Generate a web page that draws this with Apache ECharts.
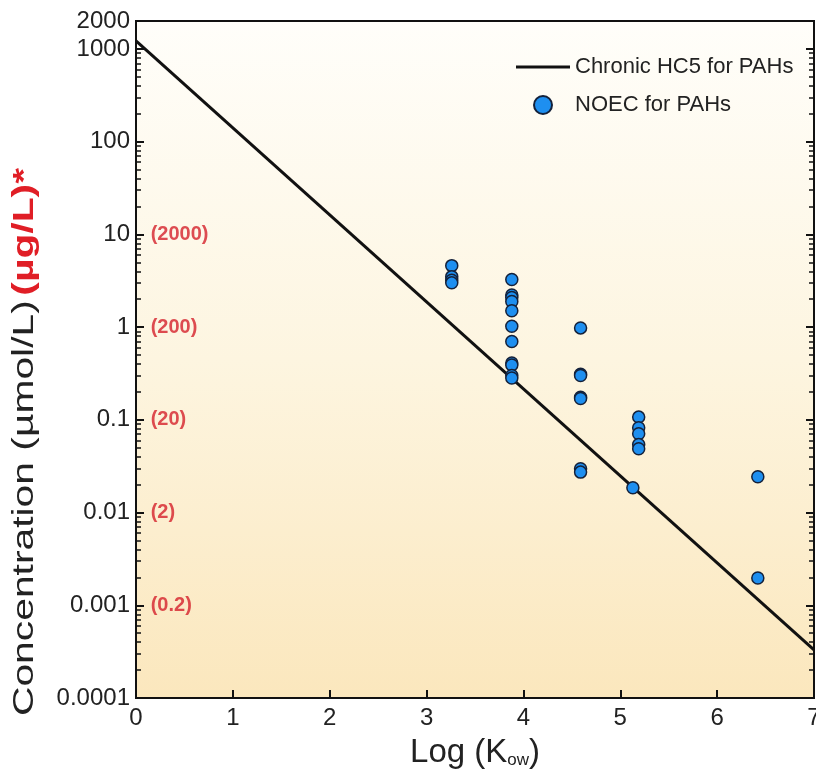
<!DOCTYPE html>
<html>
<head>
<meta charset="utf-8">
<script src="https://cdn.jsdelivr.net/npm/echarts@6/dist/echarts.min.js"></script>
<style>html,body{margin:0;padding:0;background:#fff;}#c{width:816px;height:773px;}</style>
</head>
<body>
<div id="c"></div>
<script>
// ---- data ----
const hc5X = [0, 7];
const hc5Y = [1220, 0.00033];
const noecX = [3.26, 3.26, 3.26, 3.26,
  3.88, 3.88, 3.88, 3.88, 3.88, 3.88, 3.88, 3.88, 3.88, 3.88, 3.88,
  4.59, 4.59, 4.59, 4.59, 4.59, 4.59, 4.59,
  5.19, 5.19, 5.19, 5.19, 5.19,
  5.13,
  6.42, 6.42];
const noecY = [4.6, 3.5, 3.2, 3.0,
  3.26, 2.22, 2.09, 1.89, 1.5, 1.02, 0.70, 0.41, 0.39, 0.30, 0.283,
  0.98, 0.31, 0.30, 0.175, 0.17, 0.0297, 0.0273,
  0.107, 0.082, 0.0707, 0.0542, 0.0487,
  0.0185,
  0.0243, 0.00197];
const yMajorTicks = [0.0001, 0.001, 0.01, 0.1, 1, 10, 100, 1000];
const yTickLabels = ['0.0001', '0.001', '0.01', '0.1', '1', '10', '100', '1000', '2000'];
const yTickLabelValues = [0.0001, 0.001, 0.01, 0.1, 1, 10, 100, 1000, 2000];
const yMinorTicks = [];
[0.0001, 0.001, 0.01, 0.1, 1, 10, 100].forEach(d => { for (let k = 2; k <= 9; k++) yMinorTicks.push(+(d * k).toPrecision(3)); });
yMinorTicks.push(2000);
const ugLabelY = [10, 1, 0.1, 0.01, 0.001];
const ugLabelText = ['(2000)', '(200)', '(20)', '(2)', '(0.2)'];
const ugLabelX = 0.1;
const yTitleMain = 'Concentration (µmol/L)';
const yTitleUnit = '(µg/L)*';

const FONT = 'Liberation Sans, Arial, sans-serif';

const chart = echarts.init(document.getElementById('c'), null, {renderer: 'canvas'});

const yBase = {
  type: 'log', min: 0.0001, max: 2000, logBase: 10,
  splitLine: {show: false}, minorTick: {show: false},
  axisLine: {show: false}
};

chart.setOption({
  animation: false,
  backgroundColor: '#ffffff',
  grid: {
    left: 136, right: 2, top: 21, bottom: 75,
    outerBoundsMode: 'none', containLabel: false,
    show: true, borderColor: '#111', borderWidth: 2,
    backgroundColor: new echarts.graphic.LinearGradient(0, 0, 0, 1, [
      {offset: 0, color: '#fffefa'},
      {offset: 0.5, color: '#fdf5e0'},
      {offset: 1, color: '#fbe7bd'}
    ])
  },
  legend: {
    orient: 'vertical', left: 511, top: 51,
    itemWidth: 54, itemHeight: 18, itemGap: 16,
    data: [
      {name: 'Chronic HC5 for PAHs', icon: 'path://M0,0H54V3H0Z'},
      {name: 'NOEC for PAHs', icon: 'circle'}
    ],
    textStyle: {fontFamily: FONT, fontSize: 22, color: '#222'}
  },
  graphic: [{
    type: 'text', x: 25, y: 442, rotation: Math.PI / 2, scaleX: 1.36, scaleY: 1,
    style: {
      text: '{a|' + yTitleMain + '} {b|' + yTitleUnit + '}',
      align: 'center', verticalAlign: 'middle',
      rich: {
        a: {fontFamily: FONT, fontSize: 30, fill: '#222', color: '#222'},
        b: {fontFamily: FONT, fontSize: 30, fontWeight: 'bold', fill: '#e01e26', color: '#e01e26'}
      }
    }
  }],
  xAxis: [{
    type: 'value', min: 0, max: 7, interval: 1,
    axisLine: {show: false},
    axisTick: {show: true, inside: true, length: 8, lineStyle: {color: '#111', width: 2}},
    axisLabel: {fontFamily: FONT, fontSize: 24, color: '#222', margin: 8},
    splitLine: {show: false},
    name: 'Log (K{sub|ow})', nameLocation: 'middle', nameGap: 38,
    nameTextStyle: {fontFamily: FONT, fontSize: 33, color: '#222',
      rich: {sub: {fontFamily: FONT, fontSize: 17, color: '#222', verticalAlign: 'bottom', padding: [14, 0, 0, 0]}}}
  }],
  yAxis: [
    Object.assign({}, yBase, {
      position: 'left',
      axisTick: {show: true, inside: true, length: 8, customValues: yMajorTicks, lineStyle: {color: '#111', width: 2}},
      axisLabel: {show: true, customValues: yTickLabelValues, fontFamily: FONT, fontSize: 24, color: '#222', margin: 6,
        formatter: v => { const i = yTickLabelValues.findIndex(t => Math.abs(Math.log10(t) - Math.log10(v)) < 1e-6); return i >= 0 ? yTickLabels[i] : ''; }}
    }),
    Object.assign({}, yBase, {
      position: 'left',
      axisTick: {show: true, inside: true, length: 5, customValues: yMinorTicks, lineStyle: {color: '#111', width: 1.5}},
      axisLabel: {show: false}
    }),
    Object.assign({}, yBase, {
      position: 'right',
      axisTick: {show: true, inside: true, length: 8, customValues: yMajorTicks, lineStyle: {color: '#111', width: 2}},
      axisLabel: {show: false}
    }),
    Object.assign({}, yBase, {
      position: 'right',
      axisTick: {show: true, inside: true, length: 5, customValues: yMinorTicks, lineStyle: {color: '#111', width: 1.5}},
      axisLabel: {show: false}
    })
  ],
  series: [
    {
      name: 'Chronic HC5 for PAHs', type: 'line', symbol: 'none',
      data: hc5X.map((x, i) => [x, hc5Y[i]]),
      lineStyle: {color: '#111', width: 3}, itemStyle: {color: '#111'}, z: 3
    },
    {
      name: 'NOEC for PAHs', type: 'scatter', symbol: 'circle', symbolSize: 12,
      data: noecX.map((x, i) => [x, noecY[i]]),
      itemStyle: {color: '#1e8ff0', borderColor: '#14213a', borderWidth: 1.5, opacity: 1}, z: 4
    },
    {
      name: 'ug', type: 'scatter', symbolSize: 0, silent: true,
      data: ugLabelY.map((y, i) => ({value: [ugLabelX, y], name: ugLabelText[i]})),
      label: {show: true, position: 'right', distance: 5, formatter: p => p.name,
        fontFamily: FONT, fontSize: 20, fontWeight: 'bold', color: '#d4202a'}
    }
  ]
});
</script>
</body>
</html>
